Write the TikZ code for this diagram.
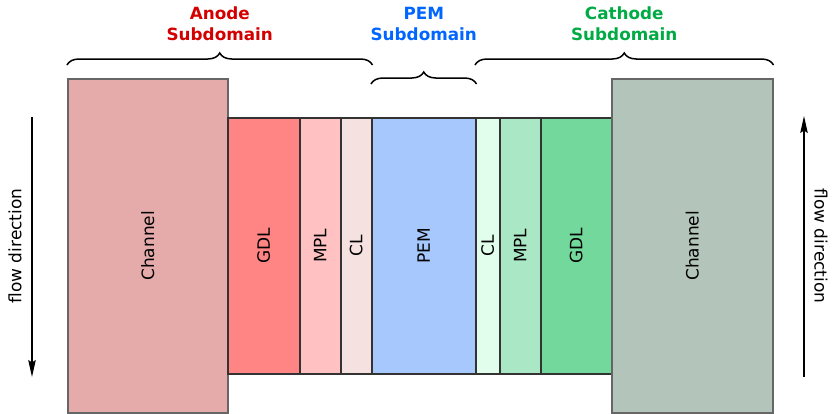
\documentclass[tikz,border=0pt]{standalone}
\usepackage{fontspec}
\setmainfont{DejaVu Sans}
\usetikzlibrary{arrows.meta,decorations.pathreplacing,calc}

% layer fills
\definecolor{chanA}{HTML}{E5AAAA}
\definecolor{gdlA}{HTML}{FF8585}
\definecolor{mplA}{HTML}{FFC1C1}
\definecolor{clA}{HTML}{F5E1E0}
\definecolor{pemC}{HTML}{A7C8FD}
\definecolor{clC}{HTML}{E1FDEC}
\definecolor{mplC}{HTML}{AAE8C5}
\definecolor{gdlC}{HTML}{72D89B}
\definecolor{chanC}{HTML}{B3C4BA}
% title colours
\definecolor{anodeT}{HTML}{D40000}
\definecolor{pemT}{HTML}{0066FF}
\definecolor{cathT}{HTML}{00AA44}

\tikzset{
  layer/.style={draw=black!80, line width=1.5pt, inner sep=0pt, anchor=north west,
                font=\fontsize{17}{20}\selectfont},
  chan/.style={layer, draw=black!60},
  subbrace/.style={decorate, decoration={brace, amplitude=12pt}, line width=1.5pt},
  title/.style={align=center, font=\fontsize{16.8}{21}\selectfont\bfseries},
  flow/.style={line width=1.2pt, -{Stealth[length=17pt,width=7.5pt,inset=2.5pt]}},
  flowtext/.style={font=\fontsize{17}{20}\selectfont}
}

\begin{document}
\begin{tikzpicture}[x=1pt,y=-1pt]
\useasboundingbox (0,0) rectangle (832,413);

% anode side
\node[chan, fill=chanA, minimum width=160pt, minimum height=334pt] (chA) at (67,78) {\rotatebox{90}{Channel}};
\node[layer, fill=gdlA, minimum width=72pt, minimum height=256pt] (gdlA) at (227,117) {\rotatebox{90}{GDL}};
\node[layer, fill=mplA, minimum width=41pt, minimum height=256pt] (mplA) at (299,117) {\rotatebox{90}{MPL}};
\node[layer, fill=clA, minimum width=31pt, minimum height=256pt] (clA) at (340,117) {\rotatebox{90}{CL}};
% membrane
\node[layer, fill=pemC, minimum width=104pt, minimum height=256pt] (pem) at (371,117) {\rotatebox{90}{PEM}};
% cathode side
\node[layer, fill=clC, minimum width=24pt, minimum height=256pt] (clC) at (475,117) {\rotatebox{90}{CL}};
\node[layer, fill=mplC, minimum width=41pt, minimum height=256pt] (mplC) at (499,117) {\rotatebox{90}{MPL}};
\node[layer, fill=gdlC, minimum width=71pt, minimum height=256pt] (gdlC) at (540,117) {\rotatebox{90}{GDL}};
\node[chan, fill=chanC, minimum width=161pt, minimum height=334pt] (chC) at (611,78) {\rotatebox{90}{Channel}};

% subdomain braces
\coordinate (aL) at (chA.north west |- 0,65);
\coordinate (aR) at (clA.north east |- 0,65);
\coordinate (pL) at (pem.north west |- 0,84);
\coordinate (pR) at (pem.north east |- 0,84);
\coordinate (cL) at (clC.north west |- 0,65);
\coordinate (cR) at (chC.north east |- 0,65);
\draw[subbrace] (aL) -- (aR);
\draw[subbrace] (pL) -- (pR);
\draw[subbrace] (cL) -- (cR);

% subdomain titles above the brace tips
\coordinate (aM) at ($(aL)!0.5!(aR)$);
\coordinate (pM) at ($(pL)!0.5!(pR)$);
\coordinate (cM) at ($(cL)!0.5!(cR)$);
\node[title, text=anodeT] (tA) at (aM |- 0,24) {Anode\\Subdomain};
\node[title, text=pemT] (tP) at (pM |- 0,24) {PEM\\Subdomain};
\node[title, text=cathT] (tC) at (cM |- 0,24) {Cathode\\Subdomain};

% flow directions
\coordinate (fAtop) at (32,117);
\coordinate (fAbot) at (32,377);
\coordinate (fCbot) at (804,377);
\coordinate (fCtop) at (804,116);
\draw[flow] (fAtop) -- (fAbot);
\draw[flow] (fCbot) -- (fCtop);
\node[flowtext, rotate=90] (ftA) at (15,246) {flow direction};
\node[flowtext, rotate=-90] (ftC) at (821,246) {flow direction};
\end{tikzpicture}
\end{document}
